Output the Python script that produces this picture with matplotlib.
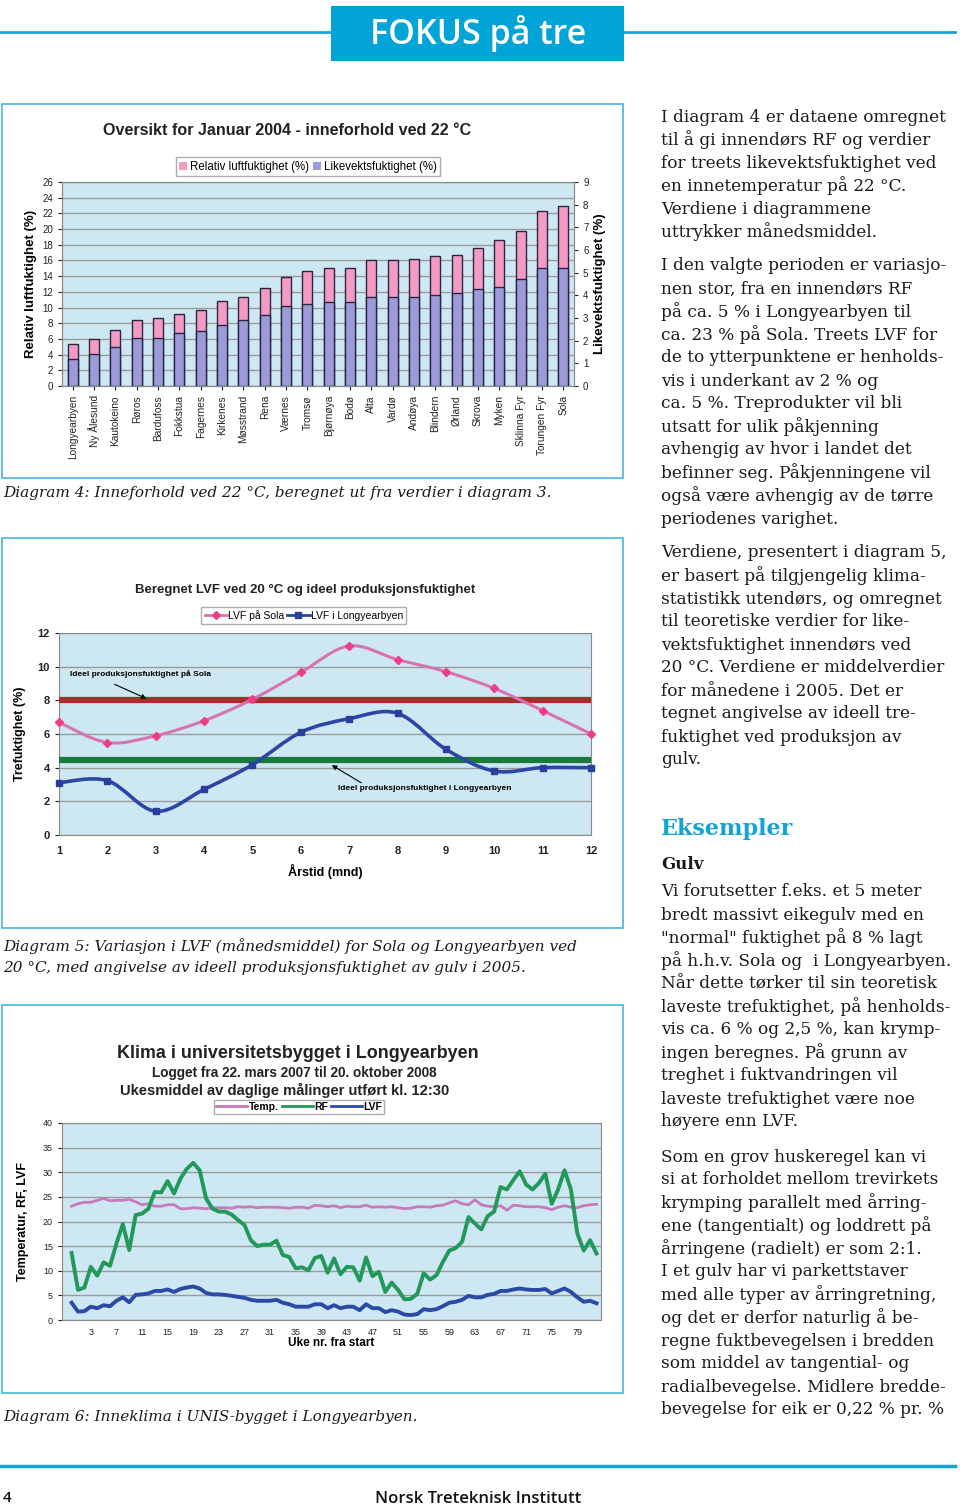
import numpy as np
import matplotlib
matplotlib.use("Agg")
import matplotlib.pyplot as plt
from matplotlib.patches import Rectangle, Patch, PathPatch
from matplotlib.path import Path
from matplotlib.lines import Line2D

W, H = 960, 1505

# ---------------- data: diagram 4 (januar 2004, 22 C) ----------------
stations = ["Longyearbyen", "Ny Ålesund", "Kautokeino", "Røros", "Bardufoss", "Fokkstua",
            "Fagernes", "Kirkenes", "Møsstrand", "Rena", "Værnes", "Tromsø", "Bjørnøya",
            "Bodø", "Alta", "Vardø", "Andøya", "Blindern", "Ørland", "Skrova", "Myken",
            "Sklinna Fyr", "Torungen Fyr", "Sola"]
rf_jan = [5.3, 6.05, 7.1, 8.4, 8.65, 9.15, 9.7, 10.8, 11.35, 12.5, 13.9, 14.65, 15.05,
          15.05, 16.0, 16.0, 16.15, 16.55, 16.65, 17.6, 18.55, 19.75, 22.35, 22.9]
lvf_jan = [1.19, 1.42, 1.71, 2.13, 2.11, 2.32, 2.42, 2.7, 2.91, 3.13, 3.53, 3.62, 3.72,
           3.72, 3.91, 3.91, 3.91, 4.01, 4.12, 4.29, 4.38, 4.72, 5.22, 5.22]

# ---------------- data: diagram 5 (LVF 2005) ----------------
months = [1, 2, 3, 4, 5, 6, 7, 8, 9, 10, 11, 12]
lvf_sola = [6.69, 5.49, 5.9, 6.79, 8.06, 9.66, 11.23, 10.42, 9.7, 8.71, 7.39, 6.0]
lvf_lyb = [3.11, 3.23, 1.41, 2.71, 4.18, 6.1, 6.91, 7.23, 5.09, 3.8, 4.0, 4.0]
ideal_sola = 8.0
ideal_lyb = 4.43

# ---------------- data: diagram 6 (UNIS, ukesmiddel) ----------------
temp_uke = [23.1, 23.6, 23.9, 23.9, 24.3, 24.7, 24.2, 24.3, 24.3, 24.5,
            24.0, 23.4, 23.6, 23.1, 23.1, 23.4, 23.4, 22.6, 22.6, 22.8,
            22.7, 22.6, 22.8, 22.8, 22.8, 22.7, 23.0, 22.9, 23.0, 22.8,
            22.9, 22.9, 22.9, 22.8, 22.7, 22.9, 22.9, 22.7, 23.3, 23.2,
            23.0, 23.2, 22.8, 23.1, 23.0, 23.0, 23.3, 22.9, 23.0, 22.9,
            23.0, 22.8, 22.6, 22.7, 23.0, 23.0, 22.9, 23.2, 23.3, 23.8,
            24.2, 23.6, 23.4, 24.4, 23.4, 23.1, 23.0, 23.2, 22.3, 23.3,
            23.2, 23.0, 23.0, 23.0, 22.8, 22.4, 22.9, 23.2, 22.9, 22.8,
            23.2, 23.4, 23.5]
rf_uke = [13.6, 6.1, 6.6, 10.8, 9.0, 11.7, 11.0, 15.5, 19.5, 14.2,
          21.3, 21.6, 22.6, 26.0, 25.9, 28.2, 25.7, 28.7, 30.7, 31.9,
          30.4, 24.7, 22.6, 22.0, 22.0, 21.4, 20.3, 19.3, 16.2, 15.0,
          15.3, 15.3, 16.1, 13.2, 12.8, 10.5, 10.7, 10.1, 12.6, 13.0,
          9.6, 12.5, 9.3, 10.8, 10.7, 8.0, 12.7, 8.9, 9.8, 5.7,
          7.6, 6.1, 4.2, 4.3, 5.3, 9.5, 8.2, 9.1, 11.8, 14.1,
          14.6, 15.9, 20.9, 19.6, 18.4, 21.1, 22.0, 27.0, 26.5, 28.4,
          30.2, 27.5, 26.5, 27.8, 29.7, 23.6, 26.5, 30.4, 26.5, 17.6,
          14.1, 16.2, 13.5]
lvf_uke = [3.5, 1.7, 1.8, 2.7, 2.4, 3.0, 2.8, 3.9, 4.6, 3.6,
           5.1, 5.2, 5.4, 5.9, 5.9, 6.2, 5.7, 6.3, 6.6, 6.8,
           6.4, 5.5, 5.2, 5.2, 5.1, 4.9, 4.7, 4.5, 4.1, 3.9,
           3.9, 3.9, 4.1, 3.5, 3.2, 2.7, 2.7, 2.7, 3.2, 3.2,
           2.4, 3.0, 2.4, 2.7, 2.7, 2.0, 3.2, 2.4, 2.4, 1.6,
           2.0, 1.7, 1.1, 1.0, 1.2, 2.2, 2.0, 2.2, 2.8, 3.5,
           3.7, 4.1, 4.9, 4.6, 4.6, 5.1, 5.3, 5.9, 5.9, 6.2,
           6.4, 6.2, 6.1, 6.1, 6.3, 5.4, 5.9, 6.4, 5.7, 4.6,
           3.7, 3.9, 3.4]
uke_ticks = [3, 7, 11, 15, 19, 23, 27, 31, 35, 39, 43, 47, 51, 55, 59, 63, 67, 71, 75, 79]

# ---------------- page text ----------------
para1 = ["I diagram 4 er dataene omregnet",
         "til å gi innendørs RF og verdier",
         "for treets likevektsfuktighet ved",
         "en innetemperatur på 22 °C.",
         "Verdiene i diagrammene",
         "uttrykker månedsmiddel."]
para2 = ["I den valgte perioden er variasjo-",
         "nen stor, fra en innendørs RF",
         "på ca. 5 % i Longyearbyen til",
         "ca. 23 % på Sola. Treets LVF for",
         "de to ytterpunktene er henholds-",
         "vis i underkant av 2 % og",
         "ca. 5 %. Treprodukter vil bli",
         "utsatt for ulik påkjenning",
         "avhengig av hvor i landet det",
         "befinner seg. Påkjenningene vil",
         "også være avhengig av de tørre",
         "periodenes varighet."]
para3 = ["Verdiene, presentert i diagram 5,",
         "er basert på tilgjengelig klima-",
         "statistikk utendørs, og omregnet",
         "til teoretiske verdier for like-",
         "vektsfuktighet innendørs ved",
         "20 °C. Verdiene er middelverdier",
         "for månedene i 2005. Det er",
         "tegnet angivelse av ideell tre-",
         "fuktighet ved produksjon av",
         "gulv."]
para4 = ["Vi forutsetter f.eks. et 5 meter",
         "bredt massivt eikegulv med en",
         "\"normal\" fuktighet på 8 % lagt",
         "på h.h.v. Sola og  i Longyearbyen.",
         "Når dette tørker til sin teoretisk",
         "laveste trefuktighet, på henholds-",
         "vis ca. 6 % og 2,5 %, kan krymp-",
         "ingen beregnes. På grunn av",
         "treghet i fuktvandringen vil",
         "laveste trefuktighet være noe",
         "høyere enn LVF."]
para5 = ["Som en grov huskeregel kan vi",
         "si at forholdet mellom trevirkets",
         "krymping parallelt med årring-",
         "ene (tangentialt) og loddrett på",
         "årringene (radielt) er som 2:1.",
         "I et gulv har vi parkettstaver",
         "med alle typer av årringretning,",
         "og det er derfor naturlig å be-",
         "regne fuktbevegelsen i bredden",
         "som middel av tangential- og",
         "radialbevegelse. Midlere bredde-",
         "bevegelse for eik er 0,22 % pr. %"]

CYAN = "#14a4d4"
BOXC = "#55bcdc"
PLOTBG = "#cde8f2"
GRID = "#9a9a9a"
SANS = "Liberation Sans"
SERIF = "DejaVu Serif"

fig = plt.figure(figsize=(W / 100, H / 100), dpi=100)


def fx(x):
    return x / W


def fy(y):
    return 1 - y / H


def txt(x, y, s, **kw):
    kw.setdefault("va", "center_baseline")
    return fig.text(fx(x), fy(y), s, **kw)


def hline(x0, x1, y, color, lw):
    fig.add_artist(Line2D([fx(x0), fx(x1)], [fy(y), fy(y)], color=color, lw=lw,
                          transform=fig.transFigure))


def box(l, t, r, b, **kw):
    fig.add_artist(Rectangle((fx(l), fy(b)), (r - l) / W, (b - t) / H,
                             transform=fig.transFigure, **kw))


def ax_at(l, t, r, b):
    return fig.add_axes([fx(l), fy(b), (r - l) / W, (b - t) / H])


def smooth_path(x, y):
    # excel style smoothed line (catmull-rom through the points)
    verts = [(x[0], y[0])]
    codes = [Path.MOVETO]
    n = len(x)
    for i in range(n - 1):
        xa, ya = (x[i - 1], y[i - 1]) if i > 0 else (x[i], y[i])
        xd, yd = (x[i + 2], y[i + 2]) if i + 2 < n else (x[i + 1], y[i + 1])
        c1 = (x[i] + (x[i + 1] - xa) / 6, y[i] + (y[i + 1] - ya) / 6)
        c2 = (x[i + 1] - (xd - x[i]) / 6, y[i + 1] - (yd - y[i]) / 6)
        verts += [c1, c2, (x[i + 1], y[i + 1])]
        codes += [Path.CURVE4] * 3
    return Path(verts, codes)


def style_ax(ax, fs):
    ax.set_facecolor(PLOTBG)
    ax.grid(axis="y", color=GRID, lw=1.0)
    ax.set_axisbelow(True)
    for s in ax.spines.values():
        s.set_color("#8a8a8a")
    ax.tick_params(labelsize=fs, colors="#222222", length=3, width=0.8)


# ---------------- header / footer ----------------
hline(0, 331, 32, CYAN, 2)
hline(624, 955, 32, CYAN, 2)
box(331, 6, 624, 61, facecolor="#00a4d6", edgecolor="none")
txt(478, 33, "FOKUS på tre", ha="center", va="center", color="white",
    fontsize=24.5, family="Open Sans", fontweight="semibold")

hline(0, 955, 1466, CYAN, 2.5)
txt(3, 1497, "4", fontsize=11, family="Open Sans", fontweight="semibold", color="#111111")
txt(478, 1497, "Norsk Treteknisk Institutt", ha="center", fontsize=12,
    family="Open Sans", fontweight="semibold", color="#111111")

# ---------------- chart boxes ----------------
box(2, 104, 623, 478, facecolor="none", edgecolor=BOXC, lw=1.3)
box(2, 538, 623, 928, facecolor="none", edgecolor=BOXC, lw=1.3)
box(2, 1005, 623, 1393, facecolor="none", edgecolor=BOXC, lw=1.3)

# ---------------- diagram 4 ----------------
ax4 = ax_at(62, 182, 574, 386)
style_ax(ax4, 7)
pos = np.arange(len(stations))
ax4.bar(pos, rf_jan, width=0.47, color="#f49ac3", edgecolor="#2a2540", lw=1.0)
ax4.set_xlim(-0.5, len(stations) - 0.5)
ax4.set_ylim(0, 26)
ax4.set_yticks(range(0, 27, 2))
ax4.set_xticks(pos)
ax4.set_xticklabels(stations, rotation=90, fontsize=7.3, family=SANS)
ax4.set_ylabel("Relativ luftfuktighet (%)", fontsize=9.5, fontweight="bold", family=SANS)
ax4.tick_params(axis="x", length=3)
ax4b = ax4.twinx()
ax4b.bar(pos, lvf_jan, width=0.47, color="#9c9ad8", edgecolor="#2a2540", lw=1.0)
ax4b.set_ylim(0, 9)
ax4b.set_yticks(range(0, 10))
ax4b.tick_params(labelsize=7, colors="#222222", length=3)
for s in ax4b.spines.values():
    s.set_color("#8a8a8a")
ax4b.set_ylabel("Likevektsfuktighet (%)", fontsize=9.5, fontweight="bold", family=SANS)
for lab in ax4.get_yticklabels() + ax4b.get_yticklabels():
    lab.set_family(SANS)
txt(287, 129, "Oversikt for Januar 2004 - inneforhold ved 22 °C", ha="center",
    fontsize=11.6, fontweight="bold", family=SANS, color="#222222")
ax4.legend(handles=[Patch(facecolor="#f49ac3", edgecolor="none"),
                    Patch(facecolor="#9c9ad8", edgecolor="none")],
           labels=["Relativ luftfuktighet (%)", "Likevektsfuktighet (%)"],
           loc="lower center", bbox_to_anchor=(0.48, 1.0), ncol=2,
           frameon=True, fancybox=False, edgecolor="#999999", handlelength=0.7,
           handleheight=0.7, handletextpad=0.2, columnspacing=0.4, borderpad=0.3,
           prop={"family": SANS, "size": 8.3})

# ---------------- diagram 5 ----------------
ax5 = ax_at(59, 633, 591, 835)
style_ax(ax5, 8)
ax5.set_xlim(1, 12)
ax5.set_ylim(0, 12)
ax5.set_yticks(range(0, 13, 2))
ax5.set_xticks(months)
ax5.tick_params(axis="x", length=0, pad=8)
for lab in ax5.get_xticklabels() + ax5.get_yticklabels():
    lab.set_fontweight("bold")
    lab.set_family(SANS)
ax5.axhline(ideal_sola, color="#a3302a", lw=4.5, zorder=3)
ax5.axhline(ideal_lyb, color="#1a7a3c", lw=4.5, zorder=3)
ax5.add_patch(PathPatch(smooth_path(months, lvf_sola), facecolor="none",
                        edgecolor="#d873b3", lw=2.2, zorder=4))
ax5.add_patch(PathPatch(smooth_path(months, lvf_lyb), facecolor="none",
                        edgecolor="#2d45a3", lw=2.6, zorder=4))
ax5.plot(months, lvf_sola, ls="none", marker="D", ms=4, color="#ee3d86", zorder=5,
         clip_on=False)
ax5.plot(months, lvf_lyb, ls="none", marker="s", ms=4.5, color="#2a3f9c", zorder=5,
         clip_on=False)
ax5.set_xlabel("Årstid (mnd)", fontsize=9, fontweight="bold", family=SANS, labelpad=6)
ax5.set_ylabel("Trefuktighet (%)", fontsize=9, fontweight="bold", family=SANS, labelpad=8)
arrow = dict(arrowstyle="-|>", color="black", lw=0.8, shrinkA=0, shrinkB=0,
             mutation_scale=7)
ax5.text(1.22, 9.55, "Ideel produksjonsfuktighet på Sola", fontsize=6,
         fontweight="bold", family=SANS, va="center", zorder=6)
ax5.annotate("", xy=(2.81, 8.1), xytext=(2.15, 8.95), arrowprops=arrow, zorder=6)
ax5.text(6.77, 2.75, "Ideel produksjonsfuktighet i Longyearbyen", fontsize=6,
         fontweight="bold", family=SANS, va="center", zorder=6)
ax5.annotate("", xy=(6.64, 4.15), xytext=(7.25, 3.1), arrowprops=arrow, zorder=6)
txt(305, 588, "Beregnet LVF ved 20 °C og ideel produksjonsfuktighet", ha="center",
    fontsize=9.5, fontweight="bold", family=SANS, color="#222222")
ax5.legend(handles=[Line2D([], [], color="#d873b3", lw=2, marker="D", ms=4,
                           mfc="#ee3d86", mec="#ee3d86"),
                    Line2D([], [], color="#2d45a3", lw=2, marker="s", ms=4.5,
                           mfc="#2a3f9c", mec="#2a3f9c")],
           labels=["LVF på Sola", "LVF i Longyearbyen"], loc="lower center",
           bbox_to_anchor=(0.46, 1.02), ncol=2, frameon=True, fancybox=False,
           edgecolor="#999999", handlelength=2.2, handletextpad=0.1, columnspacing=0.2,
           borderpad=0.3, prop={"family": SANS, "size": 7.5})

# ---------------- diagram 6 ----------------
ax6 = ax_at(62, 1123, 601, 1320)
style_ax(ax6, 6.5)
uke = np.arange(len(rf_uke))
ax6.plot(uke, temp_uke, color="#c67ab9", lw=2.0)
ax6.plot(uke, rf_uke, color="#22985a", lw=2.8)
ax6.plot(uke, lvf_uke, color="#2b4aa6", lw=2.8)
ax6.set_xlim(-1.5, 82.7)
ax6.set_ylim(0, 40)
ax6.set_yticks(range(0, 41, 5))
ax6.set_xticks(uke_ticks)
ax6.tick_params(axis="x", length=0, pad=6)
for lab in ax6.get_xticklabels() + ax6.get_yticklabels():
    lab.set_family(SANS)
ax6.set_xlabel("Uke nr. fra start", fontsize=8.5, fontweight="bold", family=SANS,
               labelpad=0)
ax6.set_ylabel("Temperatur, RF, LVF", fontsize=9, fontweight="bold", family=SANS,
               labelpad=10)
txt(298, 1052, "Klima i universitetsbygget i Longyearbyen", ha="center",
    fontsize=12.9, fontweight="bold", family=SANS, color="#222222")
txt(294, 1071, "Logget fra 22. mars 2007 til 20. oktober 2008", ha="center",
    fontsize=9.8, fontweight="bold", family=SANS, color="#222222")
txt(285, 1089, "Ukesmiddel av daglige målinger utført kl. 12:30", ha="center",
    fontsize=10.6, fontweight="bold", family=SANS, color="#222222")
ax6.legend(handles=[Line2D([], [], color="#c67ab9", lw=2),
                    Line2D([], [], color="#22985a", lw=2),
                    Line2D([], [], color="#2b4aa6", lw=2)],
           labels=["Temp.", "RF", "LVF"], loc="lower center", bbox_to_anchor=(0.44, 1.02),
           ncol=3, frameon=True, fancybox=False, edgecolor="#999999", handlelength=3,
           handletextpad=0.1, columnspacing=0.3, borderpad=0.2,
           prop={"family": SANS, "size": 7.5, "weight": "bold"})

# ---------------- captions ----------------
cap = dict(fontsize=11.0, family=SERIF, style="italic", color="#1a1a1a")
txt(3, 492, "Diagram 4: Inneforhold ved 22 °C, beregnet ut fra verdier i diagram 3.", **cap)
txt(3, 945, "Diagram 5: Variasjon i LVF (månedsmiddel) for Sola og Longyearbyen ved", **cap)
txt(3, 967, "20 °C, med angivelse av ideell produksjonsfuktighet av gulv i 2005.", **cap)
txt(3, 1415, "Diagram 6: Inneklima i UNIS-bygget i Longyearbyen.", **cap)

# ---------------- right column text ----------------
body = dict(fontsize=12.2, family=SERIF, color="#1a1a1a")
for lines, y0 in [(para1, 115), (para2, 264), (para3, 551), (para4, 890), (para5, 1155)]:
    for i, line in enumerate(lines):
        txt(661, y0 + 23 * i, line, **body)
txt(661, 826, "Eksempler", fontsize=16, family=SERIF, fontweight="bold", color=CYAN)
txt(661, 862, "Gulv", fontsize=12, family=SERIF, fontweight="bold", color="#1a1a1a")

fig.savefig("out.png", dpi=100)
